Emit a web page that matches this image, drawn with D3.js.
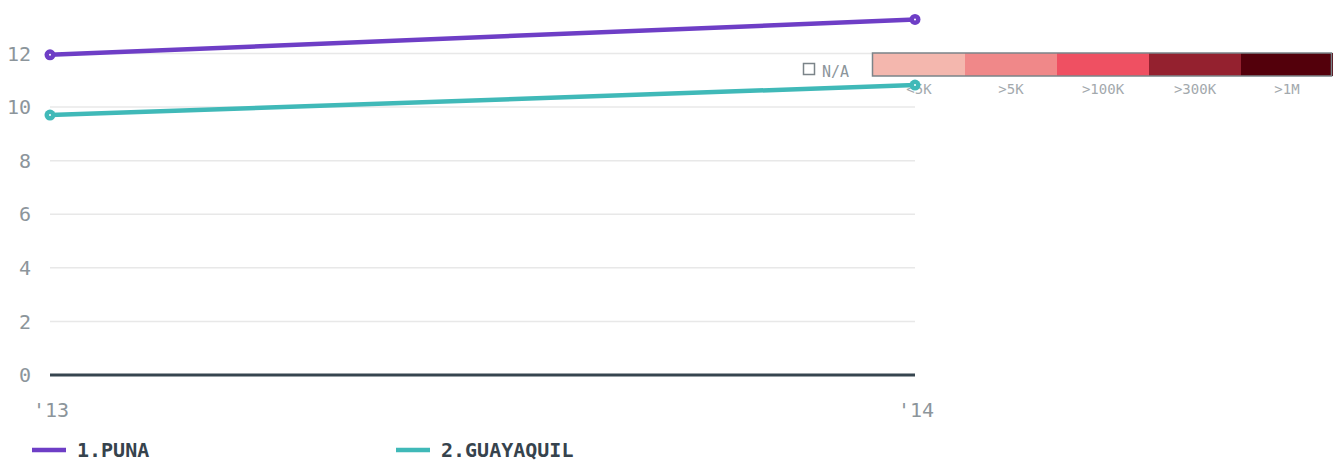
<!DOCTYPE html>
<html>
<head>
<meta charset="utf-8">
<script src="https://cdn.jsdelivr.net/npm/d3@7"></script>
<style>
  body { margin: 0; background: #fff; }
  svg { display: block; }
</style>
</head>
<body>
<script>
var width = 1342,
    height = 461;

// data
var years = ["2013", "2014"];
var yearLabels = ["'13", "'14"];
var puna = [11.95, 13.27];
var guayaquil = [9.7, 10.82];
var seriesNames = ["1.PUNA", "2.GUAYAQUIL"];
var seriesColors = ["#6e3ec6", "#40b9b8"];
var yTicks = [0, 2, 4, 6, 8, 10, 12];
var scaleLabels = ["<5K", ">5K", ">100K", ">300K", ">1M"];
var scaleColors = ["#f4b7ae", "#f08889", "#ef5062", "#94212f", "#53000b"];

var x = d3.scalePoint()
    .domain(years)
    .range([50, 915]);

var y = d3.scaleLinear()
    .domain([0, 12])
    .range([375, 53.5]);

var svg = d3.select("body").append("svg")
    .attr("width", width)
    .attr("height", height);

var tickFont = "'DejaVu Sans Mono', monospace";

// grid
svg.append("g").selectAll("line")
    .data(yTicks.filter(function(d) { return d > 0; }))
    .enter().append("line")
    .attr("x1", 50).attr("x2", 915)
    .attr("y1", function(d) { return y(d); })
    .attr("y2", function(d) { return y(d); })
    .attr("stroke", "#e8e8e8")
    .attr("stroke-width", 1.5);

// y labels
svg.append("g").selectAll("text")
    .data(yTicks)
    .enter().append("text")
    .attr("x", 31)
    .attr("y", function(d) { return y(d); })
    .attr("dy", "0.36em")
    .attr("text-anchor", "end")
    .attr("font-family", tickFont)
    .attr("font-size", 20)
    .attr("fill", "#8c959b")
    .text(function(d) { return d; });

// x labels
svg.append("g").selectAll("text")
    .data(years)
    .enter().append("text")
    .attr("x", function(d) { return x(d) + 1; })
    .attr("y", 417)
    .attr("text-anchor", "middle")
    .attr("font-family", tickFont)
    .attr("font-size", 20)
    .attr("fill", "#8c959b")
    .text(function(d, i) { return yearLabels[i]; });

// baseline
svg.append("line")
    .attr("x1", 50).attr("x2", 915)
    .attr("y1", y(0)).attr("y2", y(0))
    .attr("stroke", "#36454f")
    .attr("stroke-width", 3);

// color scale legend
var legend = svg.append("g");
var segW = 92;
legend.selectAll("rect")
    .data(scaleColors)
    .enter().append("rect")
    .attr("x", function(d, i) { return 873 + i * segW; })
    .attr("y", 53)
    .attr("width", segW)
    .attr("height", 23)
    .attr("fill", function(d) { return d; });
legend.append("rect")
    .attr("x", 872.5).attr("y", 53)
    .attr("width", 459).attr("height", 23)
    .attr("fill", "none")
    .attr("stroke", "#7b8489")
    .attr("stroke-width", 1.5);
legend.selectAll("text.s")
    .data(scaleLabels)
    .enter().append("text")
    .attr("class", "s")
    .attr("x", function(d, i) { return 873 + i * segW + segW / 2; })
    .attr("y", 94)
    .attr("text-anchor", "middle")
    .attr("font-family", tickFont)
    .attr("font-size", 14)
    .attr("fill", "#a3a9ad")
    .text(function(d) { return d; });
legend.append("rect")
    .attr("x", 803.5).attr("y", 63.5)
    .attr("width", 11).attr("height", 11)
    .attr("fill", "#fff")
    .attr("stroke", "#7b8489")
    .attr("stroke-width", 1.5);
legend.append("text")
    .attr("x", 822).attr("y", 77)
    .attr("font-family", tickFont)
    .attr("font-size", 15)
    .attr("fill", "#8c959b")
    .text("N/A");

// lines
var line = d3.line()
    .x(function(d, i) { return x(years[i]); })
    .y(function(d) { return y(d); });

var allSeries = [puna, guayaquil];

var plot = svg.append("g").selectAll("g")
    .data(allSeries)
    .enter().append("g");

plot.append("path")
    .attr("d", function(d) { return line(d); })
    .attr("fill", "none")
    .attr("stroke", function(d, i) { return seriesColors[i]; })
    .attr("stroke-width", 4.5);

plot.each(function(s, i) {
  var g = d3.select(this);
  g.selectAll("circle.dot")
      .data(s)
      .enter().append("circle")
      .attr("cx", function(d, j) { return x(years[j]); })
      .attr("cy", function(d) { return y(d); })
      .attr("r", 5.5)
      .attr("fill", seriesColors[i]);
  g.selectAll("circle.c")
      .data(s)
      .enter().append("circle")
      .attr("cx", function(d, j) { return x(years[j]); })
      .attr("cy", function(d) { return y(d); })
      .attr("r", 1)
      .attr("fill", "#fff");
});

// series legend
var keys = svg.append("g").selectAll("g")
    .data(seriesNames)
    .enter().append("g")
    .attr("transform", function(d, i) { return "translate(" + (32 + i * 364) + ",450)"; });
keys.append("line")
    .attr("x1", 0).attr("x2", 34)
    .attr("stroke", function(d, i) { return seriesColors[i]; })
    .attr("stroke-width", 4.5);
keys.append("text")
    .attr("x", 45)
    .attr("dy", "0.36em")
    .attr("font-family", tickFont)
    .attr("font-weight", "bold")
    .attr("font-size", 20)
    .attr("fill", "#36434d")
    .text(function(d) { return d; });
</script>
</body>
</html>
